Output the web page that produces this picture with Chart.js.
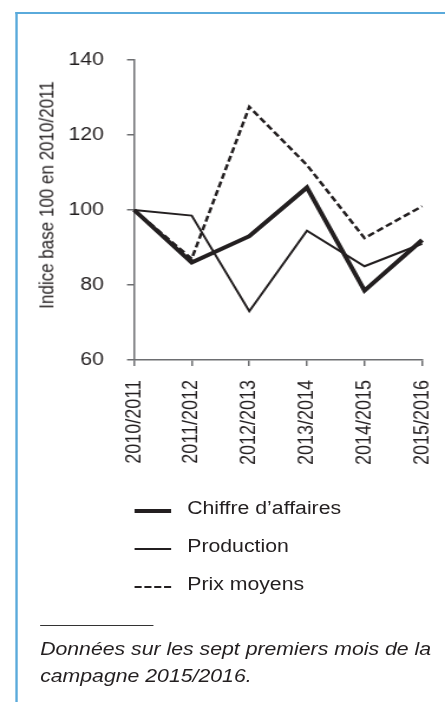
<!DOCTYPE html>
<html>
<head>
<meta charset="utf-8">
<script src="https://cdn.jsdelivr.net/npm/chart.js@4"></script>
<style>
  html, body { margin: 0; padding: 0; background: #fff; }
  body { width: 445px; height: 702px; overflow: hidden; position: relative; font-family: "Liberation Sans", Arial, sans-serif; color: #231f20; }
  /* the reference is stretched horizontally, so the whole page is drawn narrow and scaled */
  #page { position: absolute; left: 0; top: 0; width: 377px; height: 702px; transform: scaleX(1.1804); transform-origin: 0 0; }
  #frame { position: absolute; left: 12.5px; top: 12px; width: 400px; height: 720px; border-top: 2px solid #5aaadb; border-left: 2px solid #5aaadb; }
  #wrap { position: absolute; left: 0; top: 0; width: 377px; height: 480px; }
  #ytitle { position: absolute; left: 39.8px; top: 195px; font-size: 17px; white-space: nowrap; line-height: 20px;
            transform: translate(-50%, -50%) rotate(-90deg); }
  .leg { position: absolute; left: 113.6px; font-size: 18px; }
  .leg .sw { position: absolute; left: 0; width: 31.5px; }
  .leg span { position: absolute; left: 45px; white-space: nowrap; line-height: 20px; }
  #sep { position: absolute; left: 34px; top: 624.5px; width: 96px; height: 1px; background: #333; }
  #note { position: absolute; left: 34px; top: 636px; font-size: 18px; font-style: italic; line-height: 27px; white-space: nowrap; }
</style>
</head>
<body>
<div id="page">
  <div id="frame"></div>
  <div id="wrap"><canvas id="chart"></canvas></div>
  <div id="ytitle">Indice base 100 en 2010/2011</div>
  <div id="legend"></div>
  <div id="sep"></div>
  <div id="note">Données sur les sept premiers mois de la<br>campagne 2015/2016.</div>
</div>
<script>
// data
const campagnes = ['2010/2011', '2011/2012', '2012/2013', '2013/2014', '2014/2015', '2015/2016'];
const chiffreAffaires = [100, 86, 93, 106, 78.5, 92];
const production = [100, 98.5, 73, 94.5, 85, 91];
const prixMoyens = [100, 87, 127.5, 112, 92.5, 101];
const seriesNames = ['Chiffre d\u2019affaires', 'Production', 'Prix moyens'];
const yTicks = [60, 80, 100, 120, 140];

const ink = '#231f20';
const axisGrey = '#6d6e71';

const datasets = [
    { label: seriesNames[0], data: chiffreAffaires, borderColor: ink, borderWidth: 4, borderDash: [] },
    { label: seriesNames[1], data: production, borderColor: ink, borderWidth: 2, borderDash: [] },
    { label: seriesNames[2], data: prixMoyens, borderColor: ink, borderWidth: 2.5, borderDash: [6, 3] }
];

const ctx = document.getElementById('chart').getContext('2d');
const chart = new Chart(ctx, {
    type: 'line',
    data: {
        labels: campagnes,
        datasets: datasets.map(d => ({
            ...d,
            pointRadius: 0,
            tension: 0,
            fill: false,
            borderJoinStyle: 'miter',
            borderCapStyle: 'butt'
        }))
    },
    options: {
        responsive: true,
        maintainAspectRatio: false,
        animation: false,
        layout: { padding: { left: 0, top: 60, right: 19.4, bottom: 0 } },
        plugins: { legend: { display: false }, tooltip: { enabled: false } },
        scales: {
            x: {
                offset: false,
                grid: { display: true, drawOnChartArea: false, drawTicks: true, tickLength: 6, tickColor: axisGrey, lineWidth: 1.5 },
                border: { color: axisGrey, width: 1.5 },
                ticks: {
                    color: ink, font: { family: 'Liberation Sans', size: 18 },
                    maxRotation: 90, minRotation: 90, padding: 14, autoSkip: false
                },
                afterFit: s => { s.height = 120; s.paddingLeft = 0; s.paddingRight = 0; }
            },
            y: {
                min: yTicks[0], max: yTicks[yTicks.length - 1],
                afterBuildTicks: s => { s.ticks = yTicks.map(v => ({ value: v })); },
                grid: { display: true, drawOnChartArea: false, drawTicks: true, tickLength: 6, tickColor: axisGrey, lineWidth: 1.5 },
                border: { color: axisGrey, width: 1.5 },
                ticks: { color: ink, font: { family: 'Liberation Sans', size: 18 }, padding: 19.5 },
                afterFit: s => { s.width = 113.6; }
            }
        }
    }
});

// legend below the chart, one row per series
const legend = document.getElementById('legend');
const rowTops = [498, 536, 574];
datasets.forEach((d, i) => {
    const row = document.createElement('div');
    row.className = 'leg';
    row.style.top = rowTops[i] + 'px';
    const sw = document.createElement('div');
    sw.className = 'sw';
    const style = d.borderDash.length ? 'dashed' : 'solid';
    sw.style.borderTop = d.borderWidth + 'px ' + style + ' ' + ink;
    sw.style.top = (13 - d.borderWidth / 2) + 'px';
    const txt = document.createElement('span');
    txt.textContent = d.label;
    row.appendChild(sw);
    row.appendChild(txt);
    legend.appendChild(row);
});
</script>
</body>
</html>
